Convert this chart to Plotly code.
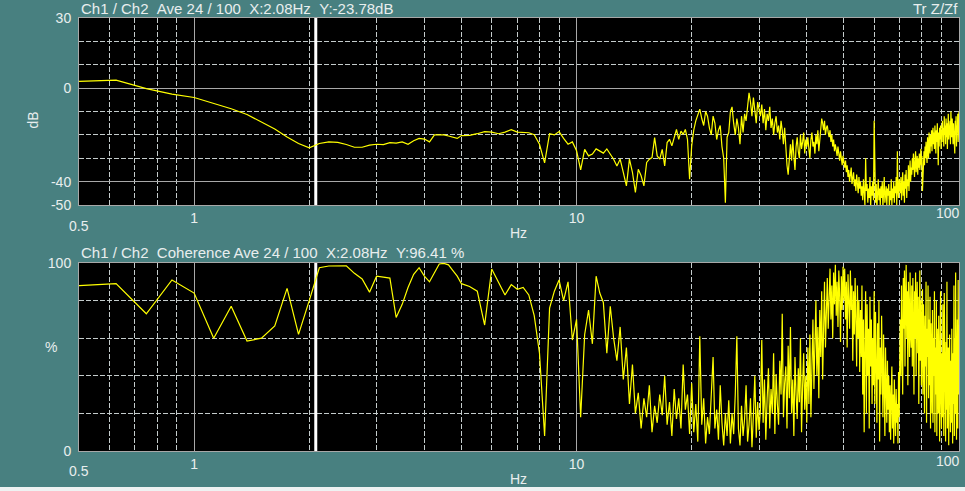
import numpy as np
import plotly.graph_objects as go

# FFT bin grid: 0.125 Hz to 5 Hz, then 0.25 Hz to 100 Hz
freq = np.concatenate([
    np.arange(0.5, 5.001, 0.125),
    np.arange(5.25, 20.001, 0.25),
    np.arange(20.25, 100.001, 0.25),
])

cursor_hz = 2.08

# transfer function Z/Zf, dB
tf_db = [
    # 0.5 .. 5 Hz
    2.9, 3.4, -0.2, -2.6, -4.0, -6.5, -8.8, -11.3, -14.5, -17.5, -20.9, -23.7,
    -25.5, -23.7, -23.0, -23.2, -24.1, -25.3, -25.3, -24.4, -24.0, -24.2, -23.3,
    -23.5, -23.0, -24.0, -22.5, -21.5, -21.8, -23.0, -20.0, -20.0, -20.0, -20.5,
    -21.0, -21.5, -20.3,
    # 5.25 .. 20 Hz
    -20.2, -19.5, -18.6, -18.8,
    -19.5, -18.8, -17.8, -18.8,
    -19.1, -19.1, -19.9, -24.0,
    -32.0, -19.5, -20.0, -18.6,
    -21.5, -24.0, -23.0, -26.8,
    -35.0, -26.2, -29.0, -28.2,
    -26.0, -27.0, -27.8, -26.0,
    -28.2, -30.4, -33.3, -30.4,
    -36.0, -41.8, -30.4, -36.0,
    -44.6, -34.7, -37.5, -41.8,
    -31.8, -30.4, -29.7, -21.2,
    -29.0, -30.4, -26.2, -33.3,
    -23.3, -21.9, -24.7, -20.5,
    -17.7, -21.9, -18.4, -19.8,
    -17.7, -21.9, -39.0, -24.7,
    # 20.25 .. 100 Hz, 20 bins per line
    -18, -14, -11, -9, -13, -16, -10, -12, -17, -20, -12, -15, -22, -18, -16, -25, -30, -49, -21, -19,
    -10, -8, -15, -20, -13, -17, -24, -12, -19, -11, -14, -7, -2, -6, -12, -4, -9, -15, -6, -10,
    -12, -7, -15, -9, -18, -11, -14, -8, -17, -13, -20, -15, -12, -19, -16, -22, -14, -18, -24, -17,
    -26, -33, -37, -28, -24, -31, -22, -29, -35, -25, -21, -27, -30, -20, -26, -23, -19, -28, -22, -25,
    -21, -26, -30, -22, -19, -25, -23, -28, -20, -24, -18, -27, -22, -16, -13, -15, -18, -14, -20, -17,
    -16, -19, -21, -18, -23, -20, -25, -22, -27, -24, -26, -29, -25, -28, -31, -27, -30, -33, -29, -32,
    -34, -31, -36, -33, -38, -35, -40, -37, -34, -41, -38, -36, -42, -39, -44, -37, -41, -45, -38, -43,
    -40, -46, -42, -48, -39, -45, -50, -30, -44, -41, -49, -43, -47, -38, -51, -42, -46, -40, -48, -14,
    -44, -49, -41, -51, -45, -39, -48, -43, -50, -42, -47, -40, -51, -44, -38, -49, -45, -42, -50, -43,
    -46, -41, -51, -44, -48, -39, -50, -43, -47, -40, -49, -42, -45, -38, -50, -27, -44, -47, -39, -42,
    -45, -38, -48, -41, -36, -46, -40, -49, -37, -43, -35, -47, -39, -42, -33, -44, -38, -31, -40, -34,
    -37, -30, -35, -28, -33, -38, -31, -27, -36, -32, -29, -37, -30, -34, -28, -35, -31, -26, -33, -29,
    -44, -38, -31, -27, -33, -25, -30, -23, -28, -32, -21, -26, -30, -19, -24, -28, -20, -25, -18, -27,
    -20, -17, -24, -19, -26, -16, -22, -28, -18, -23, -15, -21, -33, -19, -25, -17, -22, -16, -26, -20,
    -18, -14, -23, -17, -25, -12, -20, -16, -24, -13, -21, -15, -26, -18, -11, -22, -16, -20, -14, -24,
    -10, -17, -21, -13, -19, -24, -15, -22, -18, -28, -14, -20, -12, -25, -16, -19, -11, -23, -13, -10,
]

# coherence, %
coh_pct = [
    # 0.5 .. 5 Hz
    88, 89, 73, 91, 84, 60, 77, 58.5, 60, 66.5, 86.5, 62,
    80, 97.5, 98.4, 98.3, 98.5, 94.5, 91.5, 84.5, 93, 92.5, 92,
    71, 78, 87, 94, 97.5, 93, 90, 95, 99.5, 99.8, 99,
    96, 93, 89,
    # 5.25 .. 20 Hz
    87.5, 85, 67, 96.8,
    90, 83, 88.5, 86,
    87, 83, 72, 52,
    8, 76, 85, 91,
    80, 90, 59, 70,
    18, 62, 75, 57,
    93, 84, 79, 52,
    77, 60, 48, 66,
    38, 55, 25, 46,
    20, 31, 12, 28,
    18, 35, 10, 24,
    15, 30, 19, 40,
    14, 26, 8, 33,
    17, 28, 12, 46,
    22, 30, 9, 36,
    # 20.25 .. 100 Hz, 20 bins per line
    10, 25, 5, 61, 14, 28, 4, 18, 9, 33, 50, 12, 22, 6, 35, 15, 3, 20, 8, 27,
    4, 20, 9, 30, 61, 12, 3, 24, 8, 17, 35, 5, 14, 28, 2, 19, 40, 7, 26, 11,
    22, 59, 15, 38, 6, 28, 44, 12, 33, 20, 52, 9, 41, 25, 14, 48, 30, 73, 18, 36,
    45, 12, 56, 28, 66, 20, 38, 8, 50, 30, 17, 44, 26, 60, 10, 35, 52, 22, 40, 15,
    55, 25, 62, 18, 48, 70, 33, 58, 80, 40, 66, 28, 75, 50, 85, 38, 70, 90, 55, 78,
    92, 65, 85, 97, 70, 88, 60, 95, 78, 99, 72, 90, 66, 96, 82, 58, 93, 75, 98, 80,
    97, 70, 90, 55, 94, 80, 65, 96, 75, 88, 48, 85, 62, 92, 70, 45, 88, 60, 80, 42,
    75, 50, 88, 30, 70, 10, 55, 85, 20, 78, 40, 65, 12, 82, 45, 70, 25, 60, 35, 85,
    25, 74, 45, 15, 68, 38, 80, 5, 55, 30, 72, 48, 18, 62, 35, 8, 55, 42, 15, 48,
    22, 40, 10, 35, 6, 28, 45, 12, 30, 4, 38, 20, 8, 33, 15, 25, 4, 42, 18, 45,
    70, 40, 88, 55, 30, 92, 65, 96, 45, 80, 99, 60, 85, 35, 90, 72, 50, 95, 62, 55,
    88, 45, 92, 68, 30, 85, 60, 95, 40, 78, 90, 52, 82, 25, 74, 96, 48, 80, 35, 58,
    86, 30, 78, 55, 20, 72, 45, 90, 15, 65, 50, 88, 28, 70, 35, 82, 12, 68, 40, 20,
    75, 15, 60, 40, 85, 10, 55, 30, 80, 8, 48, 65, 20, 72, 35, 5, 58, 85, 25, 12,
    52, 18, 78, 35, 8, 84, 28, 45, 5, 58, 22, 90, 12, 40, 55, 3, 35, 62, 18, 10,
    48, 15, 65, 35, 4, 52, 25, 88, 8, 60, 20, 95, 55, 6, 30, 70, 12, 91, 45, 30,
]

TEAL = "#488080"
TXT = "#e8eeee"
SOLID = "#a8a8a8"
DASH = "#c4cccc"
FONT = "Liberation Sans, Arial, sans-serif"
W, H = 965, 491

fig = go.Figure()

# top: transfer function
fig.add_trace(go.Scatter(x=[cursor_hz, cursor_hz], y=[-50, 30], mode="lines",
                         line=dict(color="white", width=3), xaxis="x", yaxis="y",
                         hoverinfo="skip"))
fig.add_trace(go.Scatter(x=freq, y=tf_db, mode="lines", line=dict(color="#ffff00", width=1.2),
                         xaxis="x", yaxis="y", name="Tr Z/Zf"))
# bottom: coherence
fig.add_trace(go.Scatter(x=[cursor_hz, cursor_hz], y=[0, 100], mode="lines",
                         line=dict(color="white", width=3), xaxis="x2", yaxis="y2",
                         hoverinfo="skip"))
fig.add_trace(go.Scatter(x=freq, y=coh_pct, mode="lines", line=dict(color="#ffff00", width=1.2),
                         xaxis="x2", yaxis="y2", name="Coherence"))

x_minor = [0.6, 0.7, 0.8, 0.9, 2, 3, 4, 5, 6, 7, 8, 9, 20, 30, 40, 50, 60, 70, 80, 90]
dom_x = [79 / W, 959 / W]

xax = dict(
    type="log", range=[np.log10(0.5), 2], domain=dom_x, automargin=False,
    tickvals=[1, 10], ticktext=["1", "10"], ticks="",
    showgrid=True, gridcolor=SOLID, gridwidth=1, zeroline=False,
    minor=dict(tickvals=x_minor, showgrid=True, gridcolor=DASH, griddash="5px,2px", ticks=""),
    showline=True, linecolor=SOLID, linewidth=1, mirror=True,
    tickfont=dict(size=14, color=TXT),
)
yax_common = dict(
    ticks="", zeroline=False, showgrid=True, gridcolor=SOLID, gridwidth=1, automargin=False,
    showline=True, linecolor=SOLID, linewidth=1, mirror=True,
    tickfont=dict(size=14, color=TXT), ticklabelstandoff=4,
)

fig.update_layout(
    width=W, height=H,
    margin=dict(l=0, r=0, t=0, b=0, autoexpand=False),
    paper_bgcolor=TEAL, plot_bgcolor="black",
    font=dict(family=FONT, color=TXT, size=14),
    showlegend=False,
    xaxis=dict(xax, anchor="y"),
    xaxis2=dict(xax, anchor="y2"),
    yaxis=dict(yax_common, range=[-50, 30], domain=[1 - 205 / H, 1 - 18 / H], anchor="x",
               tickvals=[30, 0, -40, -50], ticktext=["30", "0", "-40", "-50"],
               minor=dict(tickvals=[20, 10, -10, -20, -30], showgrid=True, gridcolor=DASH,
                          griddash="5px,2px", ticks="")),
    yaxis2=dict(yax_common, range=[0, 100], domain=[1 - 451 / H, 1 - 263 / H], anchor="x2",
                tickvals=[100, 0], ticktext=["100", "0"],
                minor=dict(tickvals=[20, 40, 60, 80], showgrid=True, gridcolor=DASH,
                           griddash="5px,2px", ticks="")),
)

sp = "\u00a0\u00a0"
ann = [
    dict(text=f"Ch1 / Ch2{sp}Ave 24 / 100{sp}X:2.08Hz{sp}Y:-23.78dB", xref="paper", yref="paper",
         x=79 / W, y=1 - 9 / H, xanchor="left", yanchor="middle", font=dict(size=15, color=TXT)),
    dict(text="Tr Z/Zf", xref="paper", yref="paper", x=960 / W, y=1 - 9 / H,
         xanchor="right", yanchor="middle", font=dict(size=15, color=TXT)),
    dict(text=f"Ch1 / Ch2{sp}Coherence Ave 24 / 100{sp}X:2.08Hz{sp}Y:96.41 %", xref="paper",
         yref="paper", x=79 / W, y=1 - 253 / H, xanchor="left", yanchor="middle",
         font=dict(size=15, color=TXT)),
    dict(text="Hz", xref="paper", yref="paper", x=518 / W, y=1 - 233 / H, yanchor="middle"),
    dict(text="Hz", xref="paper", yref="paper", x=518 / W, y=1 - 479 / H, yanchor="middle"),
    dict(text="0.5", xref="x", yref="paper", x=np.log10(0.5), y=1 - 226 / H, yanchor="middle"),
    dict(text="0.5", xref="x2", yref="paper", x=np.log10(0.5), y=1 - 471 / H, yanchor="middle"),
    dict(text="100", xref="x", yref="paper", x=2, y=1 - 213 / H, xanchor="right",
         yanchor="middle", xshift=3),
    dict(text="100", xref="x2", yref="paper", x=2, y=1 - 461 / H, xanchor="right",
         yanchor="middle", xshift=3),
    dict(text="dB", xref="paper", yref="paper", x=22 / W, y=1 - 110 / H, textangle=-90),
    dict(text="%", xref="paper", yref="paper", x=43 / W, y=1 - 357 / H),
]
for a in ann:
    a.setdefault("showarrow", False)
    a.setdefault("font", dict(size=14, color=TXT))
fig.update_layout(annotations=ann)

# light strip along the bottom edge of the window
fig.add_shape(type="rect", xref="paper", yref="paper", x0=0, x1=1, y0=0, y1=4 / H,
              fillcolor="#eef2f2", line_width=0, layer="above")

fig.write_html("out.html", config={"displayModeBar": False},
               post_script="document.body.style.margin='0';")
